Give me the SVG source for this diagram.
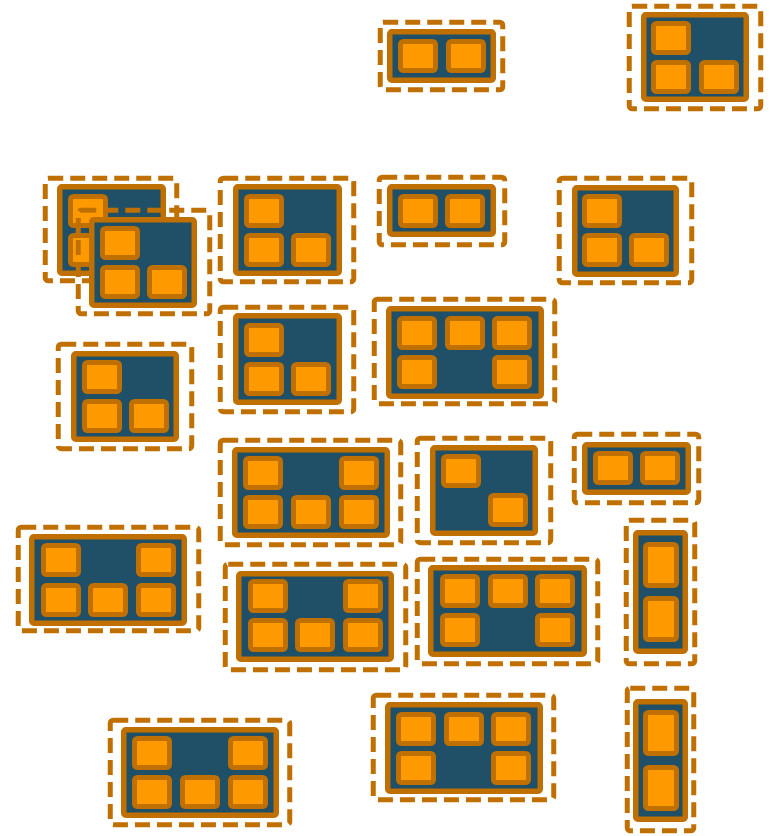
<svg xmlns="http://www.w3.org/2000/svg" width="770" height="836" viewBox="0 0 770 836">
<style>
.dash{fill:none;stroke:#c07000;stroke-width:5;stroke-dasharray:15 7}
.box{fill:#1f5068;stroke:#c07000;stroke-width:5.5}
.sq{fill:#ff9900;stroke:#c07000;stroke-width:5}
</style>
<rect width="770" height="836" fill="#ffffff"/>
<g id="connectors"/>
<g id="nodeA">
<rect class="dash" x="380.25" y="22.25" width="122.5" height="67.5" rx="3"/>
<rect class="box" x="389.75" y="31.75" width="103.5" height="48.5" rx="2"/>
<rect class="sq" x="400.5" y="41.5" width="35" height="29" rx="3"/>
<rect class="sq" x="448.5" y="41.5" width="35" height="29" rx="3"/>
</g>
<g id="nodeB">
<rect class="dash" x="629.25" y="6.25" width="131.5" height="102.5" rx="3"/>
<rect class="box" x="643.75" y="14.75" width="102.5" height="84.5" rx="2"/>
<rect class="sq" x="653.5" y="23.5" width="35" height="29" rx="3"/>
<rect class="sq" x="653.5" y="62.5" width="35" height="29" rx="3"/>
<rect class="sq" x="701.5" y="62.5" width="35" height="29" rx="3"/>
</g>
<g id="nodeC">
<rect class="dash" x="45.25" y="178.25" width="131.5" height="102.5" rx="3"/>
<rect class="box" x="59.75" y="186.75" width="103.5" height="86.5" rx="2"/>
<rect class="sq" x="70.5" y="196.5" width="35" height="29" rx="3"/>
<rect class="sq" x="70.5" y="235.5" width="35" height="29" rx="3"/>
<rect class="sq" x="118.5" y="235.5" width="35" height="29" rx="3"/>
</g>
<g id="nodeD">
<rect class="dash" x="78.25" y="210.25" width="131.5" height="103.5" rx="3"/>
<rect class="box" x="91.75" y="219.75" width="102.5" height="85.5" rx="2"/>
<rect class="sq" x="102.5" y="228.5" width="35" height="29" rx="3"/>
<rect class="sq" x="102.5" y="267.5" width="35" height="29" rx="3"/>
<rect class="sq" x="149.5" y="267.5" width="35" height="29" rx="3"/>
</g>
<g id="nodeE">
<rect class="dash" x="220.25" y="178.25" width="133.5" height="103.5" rx="3"/>
<rect class="box" x="235.75" y="186.75" width="103.5" height="86.5" rx="2"/>
<rect class="sq" x="246.5" y="196.5" width="35" height="29" rx="3"/>
<rect class="sq" x="246.5" y="235.5" width="35" height="29" rx="3"/>
<rect class="sq" x="293.5" y="235.5" width="35" height="29" rx="3"/>
</g>
<g id="nodeF">
<rect class="dash" x="379.25" y="177.25" width="125.5" height="67.5" rx="3"/>
<rect class="box" x="389.75" y="186.75" width="103.5" height="47.5" rx="2"/>
<rect class="sq" x="400.5" y="196.5" width="35" height="29" rx="3"/>
<rect class="sq" x="447.5" y="196.5" width="35" height="29" rx="3"/>
</g>
<g id="nodeG">
<rect class="dash" x="559.25" y="178.25" width="132.5" height="104.5" rx="3"/>
<rect class="box" x="574.75" y="187.75" width="101.5" height="86.5" rx="2"/>
<rect class="sq" x="584.5" y="196.5" width="35" height="29" rx="3"/>
<rect class="sq" x="584.5" y="235.5" width="35" height="29" rx="3"/>
<rect class="sq" x="631.5" y="235.5" width="35" height="29" rx="3"/>
</g>
<g id="nodeH">
<rect class="dash" x="220.25" y="307.25" width="133.5" height="104.5" rx="3"/>
<rect class="box" x="235.75" y="315.75" width="103.5" height="86.5" rx="2"/>
<rect class="sq" x="246.5" y="325.5" width="35" height="29" rx="3"/>
<rect class="sq" x="246.5" y="364.5" width="35" height="29" rx="3"/>
<rect class="sq" x="293.5" y="364.5" width="35" height="29" rx="3"/>
</g>
<g id="nodeI">
<rect class="dash" x="374.25" y="299.25" width="180.5" height="104.5" rx="3"/>
<rect class="box" x="388.75" y="308.75" width="152.5" height="87.5" rx="2"/>
<rect class="sq" x="399.5" y="318.5" width="35" height="29" rx="3"/>
<rect class="sq" x="447.5" y="318.5" width="35" height="29" rx="3"/>
<rect class="sq" x="494.5" y="318.5" width="35" height="29" rx="3"/>
<rect class="sq" x="399.5" y="357.5" width="35" height="29" rx="3"/>
<rect class="sq" x="494.5" y="357.5" width="35" height="29" rx="3"/>
</g>
<g id="nodeJ">
<rect class="dash" x="58.25" y="344.25" width="133.5" height="104.5" rx="3"/>
<rect class="box" x="73.75" y="353.75" width="102.5" height="85.5" rx="2"/>
<rect class="sq" x="84.5" y="362.5" width="35" height="29" rx="3"/>
<rect class="sq" x="84.5" y="401.5" width="35" height="29" rx="3"/>
<rect class="sq" x="131.5" y="401.5" width="35" height="29" rx="3"/>
</g>
<g id="nodeK">
<rect class="dash" x="220.25" y="440.25" width="180.5" height="104.5" rx="3"/>
<rect class="box" x="234.75" y="449.75" width="152.5" height="85.5" rx="2"/>
<rect class="sq" x="245.5" y="458.5" width="35" height="29" rx="3"/>
<rect class="sq" x="341.5" y="458.5" width="35" height="29" rx="3"/>
<rect class="sq" x="245.5" y="497.5" width="35" height="29" rx="3"/>
<rect class="sq" x="293.5" y="497.5" width="35" height="29" rx="3"/>
<rect class="sq" x="341.5" y="497.5" width="35" height="29" rx="3"/>
</g>
<g id="nodeL">
<rect class="dash" x="417.25" y="438.25" width="133.5" height="104.5" rx="3"/>
<rect class="box" x="432.75" y="447.75" width="102.5" height="85.5" rx="2"/>
<rect class="sq" x="443.5" y="456.5" width="35" height="29" rx="3"/>
<rect class="sq" x="490.5" y="495.5" width="35" height="29" rx="3"/>
</g>
<g id="nodeM">
<rect class="dash" x="574.25" y="434.25" width="124.5" height="68.5" rx="3"/>
<rect class="box" x="584.75" y="444.75" width="103.5" height="47.5" rx="2"/>
<rect class="sq" x="595.5" y="453.5" width="35" height="29" rx="3"/>
<rect class="sq" x="642.5" y="453.5" width="35" height="29" rx="3"/>
</g>
<g id="nodeN">
<rect class="dash" x="18.25" y="527.25" width="180.5" height="103.5" rx="3"/>
<rect class="box" x="31.75" y="536.75" width="152.5" height="86.5" rx="2"/>
<rect class="sq" x="43.5" y="545.5" width="35" height="29" rx="3"/>
<rect class="sq" x="138.5" y="545.5" width="35" height="29" rx="3"/>
<rect class="sq" x="43.5" y="585.5" width="35" height="29" rx="3"/>
<rect class="sq" x="90.5" y="585.5" width="35" height="29" rx="3"/>
<rect class="sq" x="138.5" y="585.5" width="35" height="29" rx="3"/>
</g>
<g id="nodeO">
<rect class="dash" x="225.25" y="564.25" width="180.5" height="105.5" rx="3"/>
<rect class="box" x="238.75" y="573.75" width="152.5" height="85.5" rx="2"/>
<rect class="sq" x="250.5" y="581.5" width="35" height="29" rx="3"/>
<rect class="sq" x="345.5" y="581.5" width="35" height="29" rx="3"/>
<rect class="sq" x="250.5" y="620.5" width="35" height="29" rx="3"/>
<rect class="sq" x="297.5" y="620.5" width="35" height="29" rx="3"/>
<rect class="sq" x="345.5" y="620.5" width="35" height="29" rx="3"/>
</g>
<g id="nodeP">
<rect class="dash" x="417.25" y="559.25" width="180.5" height="104.5" rx="3"/>
<rect class="box" x="430.75" y="567.75" width="153.5" height="86.5" rx="2"/>
<rect class="sq" x="442.5" y="576.5" width="35" height="29" rx="3"/>
<rect class="sq" x="490.5" y="576.5" width="35" height="29" rx="3"/>
<rect class="sq" x="537.5" y="576.5" width="35" height="29" rx="3"/>
<rect class="sq" x="442.5" y="615.5" width="35" height="29" rx="3"/>
<rect class="sq" x="537.5" y="615.5" width="35" height="29" rx="3"/>
</g>
<g id="nodeQ">
<rect class="dash" x="626.25" y="520.25" width="68.5" height="143.5" rx="3"/>
<rect class="box" x="635.75" y="532.75" width="49.5" height="118.5" rx="2"/>
<rect class="sq" x="645.5" y="544.5" width="31" height="41" rx="3"/>
<rect class="sq" x="645.5" y="598.5" width="31" height="41" rx="3"/>
</g>
<g id="nodeR">
<rect class="dash" x="110.25" y="720.25" width="179.5" height="104.5" rx="3"/>
<rect class="box" x="123.75" y="729.75" width="152.5" height="85.5" rx="2"/>
<rect class="sq" x="134.5" y="738.5" width="35" height="29" rx="3"/>
<rect class="sq" x="230.5" y="738.5" width="35" height="29" rx="3"/>
<rect class="sq" x="134.5" y="777.5" width="35" height="29" rx="3"/>
<rect class="sq" x="182.5" y="777.5" width="35" height="29" rx="3"/>
<rect class="sq" x="230.5" y="777.5" width="35" height="29" rx="3"/>
</g>
<g id="nodeS">
<rect class="dash" x="373.25" y="695.25" width="180.5" height="104.5" rx="3"/>
<rect class="box" x="387.75" y="704.75" width="152.5" height="86.5" rx="2"/>
<rect class="sq" x="398.5" y="714.5" width="35" height="29" rx="3"/>
<rect class="sq" x="446.5" y="714.5" width="35" height="29" rx="3"/>
<rect class="sq" x="493.5" y="714.5" width="35" height="29" rx="3"/>
<rect class="sq" x="398.5" y="753.5" width="35" height="29" rx="3"/>
<rect class="sq" x="493.5" y="753.5" width="35" height="29" rx="3"/>
</g>
<g id="nodeT">
<rect class="dash" x="627.25" y="688.25" width="66.5" height="142.5" rx="3"/>
<rect class="box" x="635.75" y="701.75" width="49.5" height="117.5" rx="2"/>
<rect class="sq" x="645.5" y="712.5" width="31" height="41" rx="3"/>
<rect class="sq" x="645.5" y="767.5" width="31" height="41" rx="3"/>
</g>
</svg>
